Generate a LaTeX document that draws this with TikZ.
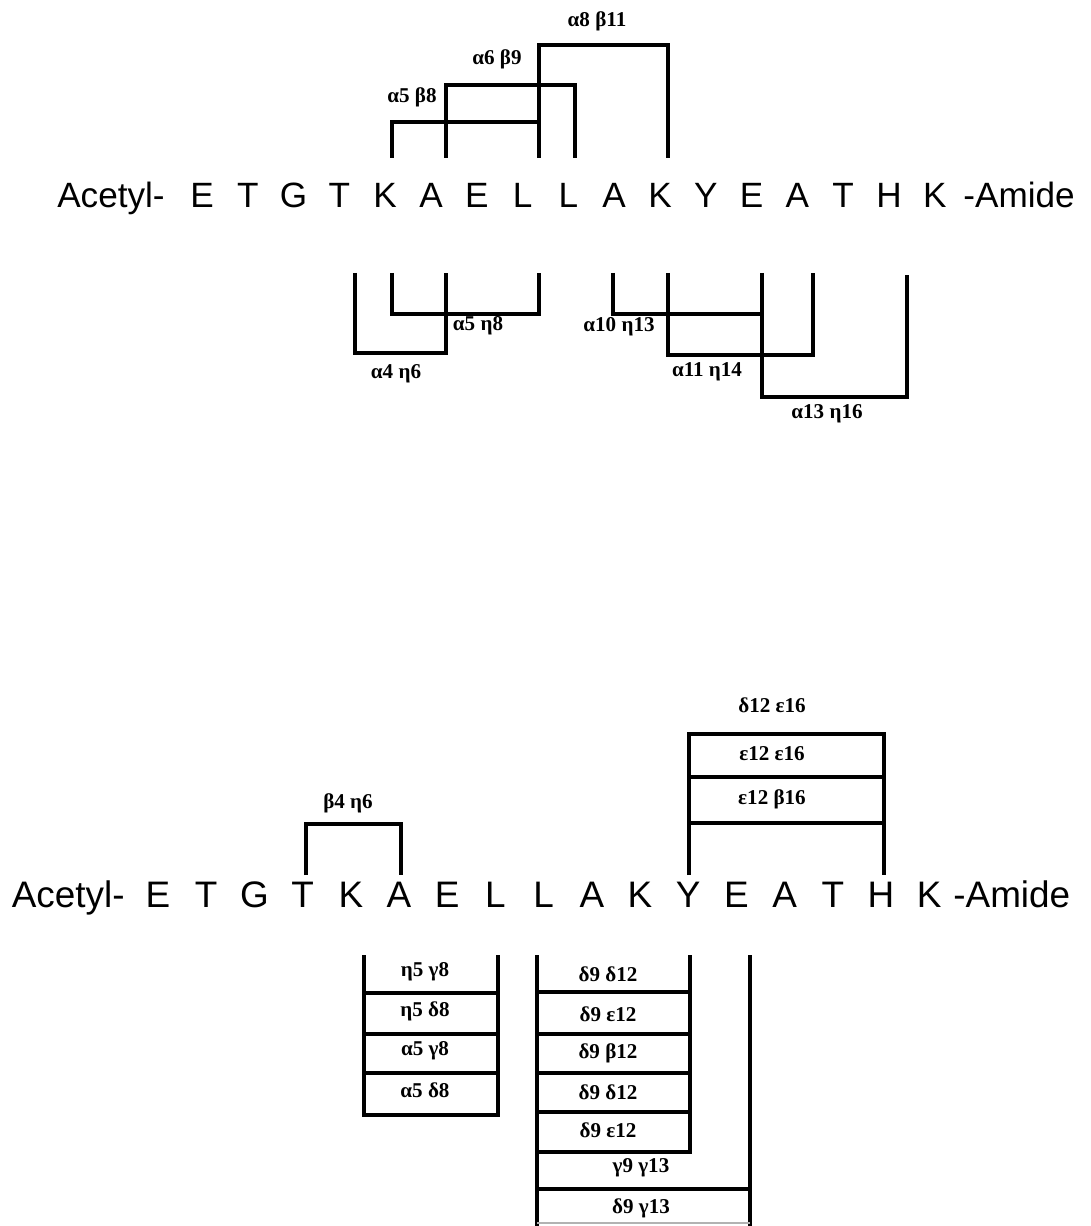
\documentclass[tikz,border=0pt]{standalone}
\usepackage{fontspec}
\setmainfont{Liberation Serif}
\newfontfamily\seqfont{Liberation Sans}
\tikzset{
  bracket/.style={line width=2pt},
  pair/.style={font=\fontsize{12}{14}\selectfont\bfseries,inner sep=1pt},
  residue/.style={font=\seqfont\fontsize{20}{24}\selectfont,anchor=base,inner sep=0pt},
  bigresidue/.style={residue,font=\seqfont\fontsize{21}{25}\selectfont},
}

\begin{document}
\begin{tikzpicture}[x=0.02cm,y=-0.02cm]
  \useasboundingbox (0,0) rectangle (1090,1226);

  % upper peptide
  \node[residue,anchor=base east] (tacetyl) at (165,208) {Acetyl-};
  \foreach \res [count=\i] in {E,T,G,T,K,A,E,L,L,A,K,Y,E,A,T,H,K}
    \node[residue] (t\i) at ({202+(\i-1)*45.8},208) {\res};
  \node[residue,anchor=base west] (tamide) at (963,208) {-Amide};

  % brackets above
  \draw[bracket] (392,158) -- (392,122) -- (539,122) -- (539,158);
  \draw[bracket] (446,158) -- (446,85) -- (575,85) -- (575,158);
  \draw[bracket] (539,158) -- (539,45) -- (668,45) -- (668,158);
  \node[pair] (ta5b8) at (412,97) {α5 β8};
  \node[pair] (ta6b9) at (497,59) {α6 β9};
  \node[pair] (ta8b11) at (597,21) {α8 β11};

  % brackets below
  \draw[bracket] (355,273) -- (355,353) -- (446,353) -- (446,273);
  \draw[bracket] (392,273) -- (392,314) -- (539,314) -- (539,273);
  \draw[bracket] (613,273) -- (613,314) -- (762,314) -- (762,273);
  \draw[bracket] (668,273) -- (668,355) -- (813,355) -- (813,273);
  \draw[bracket] (762,273) -- (762,397) -- (907,397) -- (907,275);
  \node[pair] (ta4h6) at (396,374) {α4 η6};
  \node[pair] (ta5h8) at (478,326) {α5 η8};
  \node[pair] (ta10h13) at (619,327) {α10 η13};
  \node[pair] (ta11h14) at (707,372) {α11 η14};
  \node[pair] (ta13h16) at (827,414) {α13 η16};

  % lower peptide
  \node[bigresidue,anchor=base east] (bacetyl) at (125,907) {Acetyl-};
  \foreach \res [count=\i] in {E,T,G,T,K,A,E,L,L,A,K,Y,E,A,T,H,K}
    \node[bigresidue] (b\i) at ({158+(\i-1)*48.2},907) {\res};
  \node[bigresidue,anchor=base west] (bamide) at (953,907) {-Amide};

  % brackets above
  \draw[bracket] (306,875) -- (306,824) -- (401,824) -- (401,875);
  \node[pair] (bb4h6) at (348,803) {β4 η6};
  \draw[bracket] (689,875) -- (689,734) -- (884,734) -- (884,875);
  \draw[bracket] (689,777) -- (884,777);
  \draw[bracket] (689,823) -- (884,823);
  \node[pair] (bd12e16) at (772,705) {δ12 ε16};
  \node[pair] (be12e16) at (772,754) {ε12 ε16};
  \node[pair] (be12b16) at (772,799) {ε12 β16};

  % stacks below
  \draw[bracket] (364,955) -- (364,1115) -- (498,1115) -- (498,955);
  \foreach \y in {993,1034,1073} \draw[bracket] (364,\y) -- (498,\y);
  \node[pair] (bh5g8) at (425,972) {η5 γ8};
  \node[pair] (bh5d8) at (425,1011) {η5 δ8};
  \node[pair] (ba5g8) at (425,1051) {α5 γ8};
  \node[pair] (ba5d8) at (425,1090) {α5 δ8};

  \draw[bracket] (537,955) -- (537,1226);
  \draw[bracket] (690,955) -- (690,1152) -- (537,1152);
  \draw[bracket] (750,955) -- (750,1226);
  \foreach \y in {992,1034,1073,1112} \draw[bracket] (537,\y) -- (690,\y);
  \draw[bracket] (537,1189) -- (750,1189);
  \draw[bracket,gray!60,line width=1pt] (537,1223) -- (750,1223);
  \node[pair] (bd9d12) at (608,974) {δ9 δ12};
  \node[pair] (bd9e12) at (608,1014) {δ9 ε12};
  \node[pair] (bd9b12) at (608,1053) {δ9 β12};
  \node[pair] (bd9d12b) at (608,1092) {δ9 δ12};
  \node[pair] (bd9e12b) at (608,1130) {δ9 ε12};
  \node[pair] (bg9g13) at (641,1168) {γ9 γ13};
  \node[pair] (bd9g13) at (641,1208) {δ9 γ13};
\end{tikzpicture}
\end{document}
